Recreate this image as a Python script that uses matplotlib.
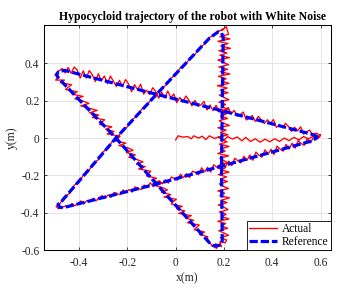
import numpy as np
import matplotlib
matplotlib.use('Agg')
from matplotlib import pyplot as plt

plt.rcParams['font.family'] = ['Liberation Serif', 'DejaVu Serif']
plt.rcParams['axes.unicode_minus'] = False

# reference star (hypocycloid)
ref_x = [0.59, 0.565, 0.193, -0.079, -0.46, -0.485, -0.493, -0.485, -0.247, -0.079,
         0.14, 0.155, 0.17, 0.185, 0.193, 0.19, 0.193, 0.197, 0.19, 0.176, 0.14,
         -0.079, -0.247, -0.47, -0.487, -0.48, -0.465, -0.079, 0.19, 0.565, 0.59]
ref_y = [0.005, 0.02, 0.146, 0.234, 0.362, 0.355, 0.338, 0.32, 0.0, -0.246,
         -0.56, -0.574, -0.578, -0.57, -0.55, -0.15, 0.146, 0.54, 0.562, 0.568, 0.534,
         0.234, 0.0, -0.335, -0.355, -0.37, -0.372, -0.246, -0.15, -0.015, 0.005]

# actual (noisy) path, piece by piece
start_x = [0.0, 0.01, 0.03, 0.05, 0.065, 0.075, 0.095, 0.11, 0.125, 0.14, 0.16, 0.18, 0.2, 0.215,
           0.235, 0.255, 0.275, 0.29, 0.31, 0.33, 0.35, 0.37, 0.39, 0.41, 0.43, 0.45, 0.47, 0.49,
           0.51, 0.53, 0.55, 0.57, 0.59]
start_y = [-0.01, 0.012, 0.005, 0.008, -0.004, 0.012, 0.0, 0.01, -0.008, 0.012, -0.002, 0.006,
           -0.012, 0.008, -0.005, 0.006, -0.015, 0.004, -0.018, -0.004, -0.022, -0.006, -0.02,
           -0.004, -0.018, 0.0, -0.014, 0.004, -0.01, 0.008, -0.004, 0.01, 0.005]

# right tip -> upper-left tip
edge_a_x = [0.6, 0.58, 0.5675, 0.555, 0.5425, 0.53, 0.5175, 0.505, 0.4925, 0.48, 0.4675, 0.455,
            0.4425, 0.43, 0.4175, 0.405, 0.3925, 0.38, 0.3675, 0.355, 0.3425, 0.33, 0.3175, 0.305,
            0.2925, 0.28, 0.2675, 0.255, 0.2425, 0.23, 0.2175, 0.205, 0.1925, 0.18, 0.1675, 0.155,
            0.1425, 0.13, 0.1175, 0.105, 0.0925, 0.08, 0.0675, 0.055, 0.0425, 0.03, 0.0175, 0.005,
            -0.0075, -0.02, -0.0325, -0.045, -0.0575, -0.07, -0.0825, -0.095, -0.1075, -0.12,
            -0.1325, -0.145, -0.1575, -0.17, -0.1825, -0.195, -0.2075, -0.22, -0.2325, -0.245,
            -0.2575, -0.27, -0.2825, -0.295, -0.3075, -0.32, -0.3325, -0.345, -0.3575, -0.37,
            -0.3825, -0.395, -0.4075, -0.42, -0.4325, -0.445, -0.4575, -0.47,
            -0.49, -0.5, -0.485, -0.497]
edge_a_y = [0.015, 0.027, 0.015, 0.043, 0.033, 0.021, 0.060, 0.038, 0.058, 0.035, 0.062, 0.079,
            0.055, 0.070, 0.057, 0.099, 0.078, 0.098, 0.078, 0.098, 0.116, 0.089, 0.121, 0.105,
            0.097, 0.139, 0.125, 0.116, 0.148, 0.128, 0.164, 0.128, 0.155, 0.147, 0.175, 0.147,
            0.177, 0.150, 0.196, 0.178, 0.170, 0.202, 0.172, 0.203, 0.225, 0.193, 0.217, 0.189,
            0.236, 0.214, 0.252, 0.214, 0.246, 0.213, 0.249, 0.269, 0.233, 0.255, 0.235, 0.288,
            0.258, 0.286, 0.248, 0.290, 0.313, 0.275, 0.309, 0.275, 0.303, 0.332, 0.290, 0.332,
            0.306, 0.344, 0.302, 0.339, 0.361, 0.321, 0.359, 0.321, 0.364, 0.380, 0.346, 0.378,
            0.348, 0.372,
            0.352, 0.338, 0.33, 0.31]

# upper-left tip -> bottom tip
edge_b_x = [-0.460, -0.478, -0.431, -0.444, -0.456, -0.407, -0.428, -0.383, -0.417, -0.382,
            -0.359, -0.393, -0.358, -0.325, -0.357, -0.318, -0.345, -0.294, -0.306, -0.315,
            -0.264, -0.290, -0.255, -0.284, -0.230, -0.239, -0.249, -0.206, -0.235, -0.197,
            -0.176, -0.204, -0.167, -0.194, -0.160, -0.135, -0.162, -0.126, -0.153, -0.103,
            -0.112, -0.121, -0.079, -0.098, -0.055, -0.089, -0.054, -0.034, -0.059, -0.020,
            -0.048, 0.003, -0.010, -0.018, 0.027, 0.004, 0.038, 0.013, 0.065, 0.042, 0.075,
            0.049, 0.098, 0.087, 0.077, 0.120, 0.098, 0.133, 0.132,
            0.15, 0.17, 0.165, 0.19, 0.183, 0.205]
edge_b_y = [0.31, 0.2975, 0.285, 0.2725, 0.26, 0.2475, 0.235, 0.2225, 0.21, 0.1975, 0.185,
            0.1725, 0.16, 0.1475, 0.135, 0.1225, 0.11, 0.0975, 0.085, 0.0725, 0.06, 0.0475,
            0.035, 0.0225, 0.01, -0.0025, -0.015, -0.0275, -0.04, -0.0525, -0.065, -0.0775,
            -0.09, -0.1025, -0.115, -0.1275, -0.14, -0.1525, -0.165, -0.1775, -0.19, -0.2025,
            -0.215, -0.2275, -0.24, -0.2525, -0.265, -0.2775, -0.29, -0.3025, -0.315, -0.3275,
            -0.34, -0.3525, -0.365, -0.3775, -0.39, -0.4025, -0.415, -0.4275, -0.44, -0.4525,
            -0.465, -0.4775, -0.49, -0.5025, -0.515, -0.5275, -0.54,
            -0.575, -0.59, -0.565, -0.58, -0.555, -0.56]

# bottom tip -> top tip (vertical side)
edge_c_x = [0.211, 0.185, 0.219, 0.199, 0.179, 0.215, 0.189, 0.207, 0.175, 0.221,
            0.191, 0.209, 0.181, 0.217, 0.201, 0.177, 0.213, 0.187, 0.223, 0.183,
            0.203, 0.175, 0.219, 0.197, 0.181, 0.215, 0.185, 0.211, 0.177, 0.221,
            0.189, 0.207, 0.179, 0.217, 0.199, 0.183, 0.219, 0.175, 0.205, 0.187,
            0.221, 0.181, 0.213, 0.191, 0.177, 0.217, 0.185, 0.209, 0.175, 0.223,
            0.197, 0.181, 0.215, 0.187, 0.211, 0.175, 0.219, 0.189, 0.207, 0.179,
            0.221, 0.199, 0.181, 0.217, 0.185, 0.213, 0.173, 0.221, 0.189, 0.209,
            0.177, 0.225, 0.185, 0.215, 0.179, 0.219, 0.197, 0.175, 0.223, 0.183,
            0.213, 0.179, 0.227, 0.187, 0.217, 0.175, 0.225, 0.183, 0.219,
            0.21, 0.19, 0.2, 0.178, 0.165, 0.15]
edge_c_y = [-0.545, -0.5325, -0.52, -0.5075, -0.495, -0.4825, -0.47, -0.4575, -0.445, -0.4325,
            -0.42, -0.4075, -0.395, -0.3825, -0.37, -0.3575, -0.345, -0.3325, -0.32, -0.3075,
            -0.295, -0.2825, -0.27, -0.2575, -0.245, -0.2325, -0.22, -0.2075, -0.195, -0.1825,
            -0.17, -0.1575, -0.145, -0.1325, -0.12, -0.1075, -0.095, -0.0825, -0.07, -0.0575,
            -0.045, -0.0325, -0.02, -0.0075, 0.005, 0.0175, 0.03, 0.0425, 0.055, 0.0675,
            0.08, 0.0925, 0.105, 0.1175, 0.13, 0.1425, 0.155, 0.1675, 0.18, 0.1925,
            0.205, 0.2175, 0.23, 0.2425, 0.255, 0.2675, 0.28, 0.2925, 0.305, 0.3175,
            0.33, 0.3425, 0.355, 0.3675, 0.38, 0.3925, 0.405, 0.4175, 0.43, 0.4425,
            0.455, 0.4675, 0.48, 0.4925, 0.505, 0.5175, 0.53, 0.5425, 0.555,
            0.595, 0.575, 0.585, 0.57, 0.56, 0.545]

# top tip -> lower-left tip (nearly clean side)
edge_d_x = [0.14, 0.12, 0.10, 0.08, 0.06, 0.04, 0.02, 0.0, -0.02, -0.04, -0.06, -0.08, -0.10,
            -0.12, -0.14, -0.16, -0.18, -0.20, -0.22, -0.24, -0.26, -0.28, -0.30, -0.32, -0.34,
            -0.36, -0.38, -0.40, -0.42, -0.44, -0.46, -0.48, -0.495, -0.485, -0.47]
edge_d_y = [0.538, 0.503, 0.484, 0.447, 0.429, 0.392, 0.376, 0.337, 0.320, 0.282, 0.266, 0.228,
            0.211, 0.172, 0.155, 0.116, 0.099, 0.060, 0.044, 0.004, -0.013, -0.056, -0.073,
            -0.116, -0.133, -0.176, -0.193, -0.236, -0.252, -0.297, -0.313, -0.352,
            -0.365, -0.378, -0.37]

# lower-left tip -> right tip
edge_e_x = [-0.455, -0.4425, -0.43, -0.4175, -0.405, -0.3925, -0.38, -0.3675, -0.355, -0.3425,
            -0.33, -0.3175, -0.305, -0.2925, -0.28, -0.2675, -0.255, -0.2425, -0.23, -0.2175,
            -0.205, -0.1925, -0.18, -0.1675, -0.155, -0.1425, -0.13, -0.1175, -0.105, -0.0925,
            -0.08, -0.0675, -0.055, -0.0425, -0.03, -0.0175, -0.005, 0.0075, 0.02, 0.0325,
            0.045, 0.0575, 0.07, 0.0825, 0.095, 0.1075, 0.12, 0.1325, 0.145, 0.1575,
            0.17, 0.1825, 0.195, 0.2075, 0.22, 0.2325, 0.245, 0.2575, 0.27, 0.2825,
            0.295, 0.3075, 0.32, 0.3325, 0.345, 0.3575, 0.37, 0.3825, 0.395, 0.4075,
            0.42, 0.4325, 0.445, 0.4575, 0.47, 0.4825, 0.495, 0.5075, 0.52, 0.5325,
            0.545, 0.5575, 0.57, 0.595, 0.6]
edge_e_y = [-0.363, -0.369, -0.350, -0.362, -0.350, -0.336, -0.352, -0.334, -0.340, -0.322,
            -0.336, -0.320, -0.308, -0.322, -0.304, -0.317, -0.291, -0.297, -0.303, -0.277,
            -0.291, -0.275, -0.289, -0.261, -0.269, -0.275, -0.251, -0.265, -0.239, -0.260,
            -0.240, -0.228, -0.245, -0.223, -0.241, -0.208, -0.218, -0.225, -0.193, -0.212,
            -0.190, -0.211, -0.177, -0.184, -0.196, -0.159, -0.181, -0.156, -0.182, -0.143,
            -0.155, -0.164, -0.128, -0.151, -0.123, -0.148, -0.108, -0.121, -0.133, -0.097,
            -0.120, -0.090, -0.119, -0.075, -0.092, -0.102, -0.063, -0.087, -0.060, -0.088,
            -0.043, -0.059, -0.070, -0.034, -0.059, -0.027, -0.054, -0.014, -0.029, -0.039,
            -0.004, -0.026, 0.001, 0.004, 0.018]

x_ticks = [-0.4, -0.2, 0, 0.2, 0.4, 0.6]
x_tick_labels = ['-0.4', '-0.2', '0', '0.2', '0.4', '0.6']
y_ticks = [-0.6, -0.4, -0.2, 0, 0.2, 0.4]
y_tick_labels = ['-0.6', '-0.4', '-0.2', '0', '0.2', '0.4']

actual_x = np.concatenate([start_x, edge_a_x, edge_b_x, edge_c_x, edge_d_x, edge_e_x])
actual_y = np.concatenate([start_y, edge_a_y, edge_b_y, edge_c_y, edge_d_y, edge_e_y])

fig = plt.figure(figsize=(3.43, 2.89), dpi=100)
ax = fig.add_axes([0.129, 0.134, 0.835, 0.7785])

ax.plot(actual_x, actual_y, color='red', lw=0.95, label='Actual', zorder=2)
ax.plot(ref_x, ref_y, color='blue', lw=2.3, dashes=(2.6, 0.9), label='Reference', zorder=3)

ax.set_xlim(-0.544, 0.642)
ax.set_ylim(-0.6, 0.603)
ax.set_xticks(x_ticks)
ax.set_xticklabels(x_tick_labels)
ax.set_yticks(y_ticks)
ax.set_yticklabels(y_tick_labels)
ax.grid(True, color='#e2e2e2', lw=0.6, zorder=0)
ax.set_axisbelow(True)
ax.tick_params(direction='in', top=True, right=True, length=2.5, width=0.6, labelsize=8.3,
               colors='#262626')
ax.tick_params(axis='x', pad=5)
ax.tick_params(axis='y', pad=3.5)
for s in ax.spines.values():
    s.set_linewidth(0.75)

ax.set_xlabel('x(m)', fontsize=8.5, labelpad=2, color='#262626')
ax.set_ylabel('y(m)', fontsize=8.5, labelpad=2, color='#262626')
ax.set_title('Hypocycloid trajectory of the robot with White Noise', fontsize=8.5,
             fontweight='bold', pad=4, x=0.519)

leg = ax.legend(loc='lower right', fontsize=8.3, borderaxespad=0, handlelength=2.4,
                handletextpad=0.4, borderpad=0.2, labelspacing=0.1, fancybox=False,
                edgecolor='black', framealpha=1)
leg.get_frame().set_linewidth(0.6)

fig.savefig('out.png', dpi=100)
